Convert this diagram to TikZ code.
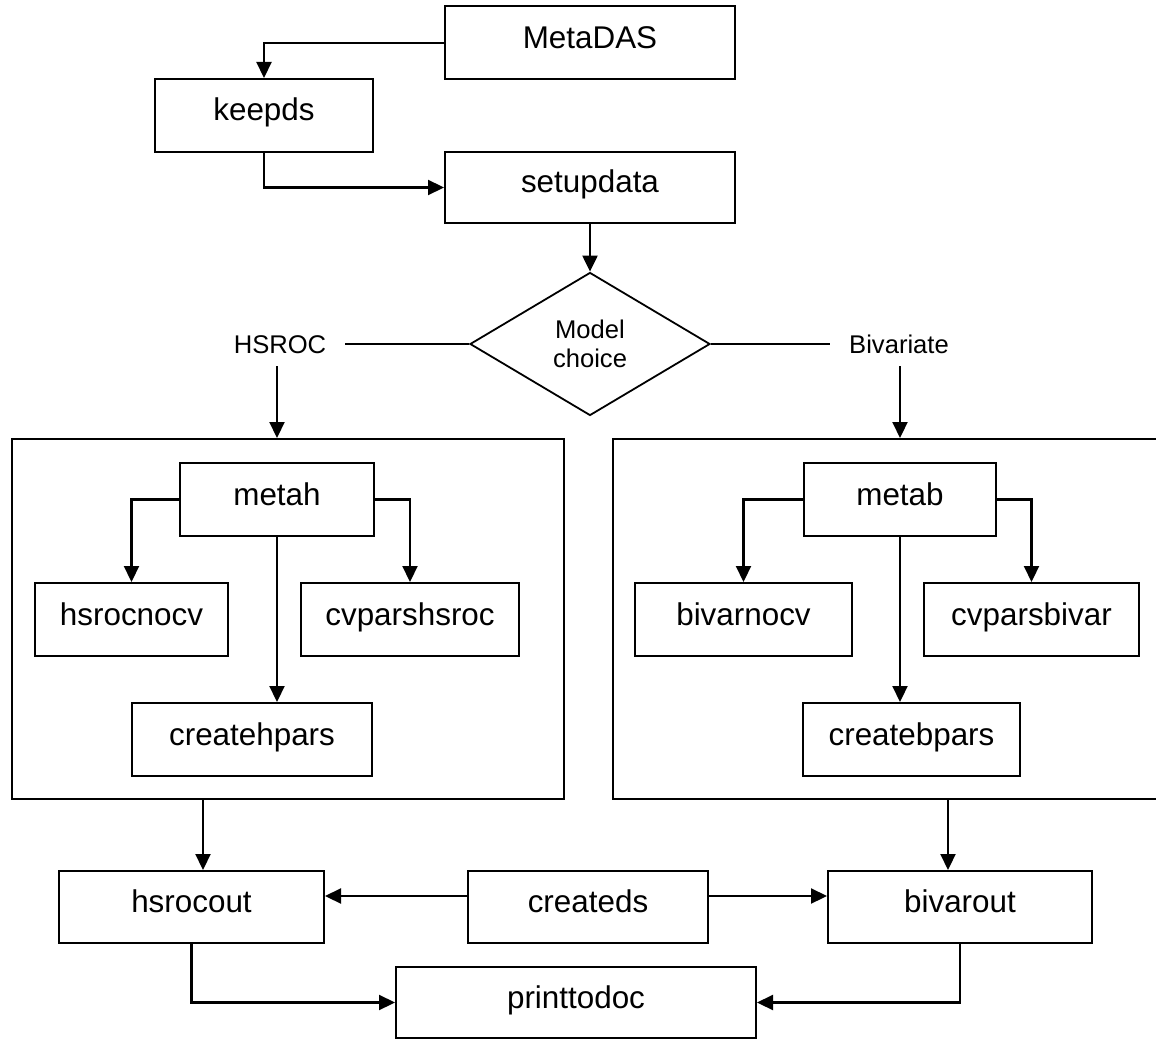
\documentclass[tikz,border=0pt]{standalone}
\usepackage{fontspec}
\setmainfont{Liberation Sans}
\usetikzlibrary{shapes.geometric,arrows.meta}
\begin{document}
\begin{tikzpicture}[x=1pt,y=-1pt,
  box/.style={draw,line width=2pt,inner sep=0pt,minimum height=73pt,
    font=\fontsize{31.4}{36}\selectfont,text height=23pt,text depth=12pt},
  frame/.style={draw,line width=2pt,inner sep=0pt,minimum height=360pt},
  arr/.style={line width=2.2pt,-{Triangle[length=16pt,width=15pt]}},
  plain/.style={line width=1.6pt},
  lbl/.style={font=\fontsize{25.6}{28.5}\selectfont,inner xsep=19pt,inner ysep=13pt,
    text height=18.3pt,text depth=0pt}]
\useasboundingbox[fill=white] (0,0) rectangle (1156,1040);

% top
\node[box,minimum width=290pt] (meta) at (590,43) {MetaDAS};
\node[box,minimum width=218pt] (keep) at (264,115.5) {keepds};
\node[box,minimum width=290pt,minimum height=71pt] (setup) at (590,187.5) {setupdata};
\node[draw,diamond,line width=1.8pt,inner sep=0pt,minimum width=240pt,minimum height=143pt,
  align=center,font=\fontsize{25.6}{28.5}\selectfont] (dia) at (590,344) {Model\\choice};
\node[lbl] (hsroc) at (280,344) {HSROC};
\node[lbl] (biv) at (899,344) {Bivariate};

% frames
\node[frame,minimum width=552pt] (lbox) at (288,619) {};
\node[frame,minimum width=545pt] (rbox) at (885.5,619) {};

% left group
\node[box,minimum width=194pt] (metah) at (277,499.5) {metah};
\node[box,minimum width=193pt] (hnocv) at (131.5,619.5) {hsrocnocv};
\node[box,minimum width=218pt] (cvh) at (410,619.5) {cvparshsroc};
\node[box,minimum width=240pt] (chp) at (252,739.5) {createhpars};

% right group
\node[box,minimum width=192pt] (metab) at (900,499.5) {metab};
\node[box,minimum width=217pt] (bnocv) at (743.5,619.5) {bivarnocv};
\node[box,minimum width=215pt] (cvb) at (1031.5,619.5) {cvparsbivar};
\node[box,minimum width=217pt] (cbp) at (911.5,739.5) {createbpars};

% bottom
\node[box,minimum width=265pt,minimum height=72pt] (hout) at (191.5,907) {hsrocout};
\node[box,minimum width=240pt,minimum height=72pt] (cds) at (588,907) {createds};
\node[box,minimum width=264pt,minimum height=72pt] (bout) at (960,907) {bivarout};
\node[box,minimum width=360pt,minimum height=71pt] (print) at (576,1002.5) {printtodoc};

% connectors
\draw[arr] (meta.west) -| (keep.north);
\draw[arr] (keep.south) |- (setup.west);
\draw[arr] (setup.south) -- (dia.north);
\draw[plain] (hsroc.east) -- (dia.west);
\draw[plain] (dia.east) -- (biv.west);
\draw[arr] (hsroc.south -| metah) -- (lbox.north -| metah);
\draw[arr] (biv.south -| metab) -- (rbox.north -| metab);

\draw[arr] (metah.west) -| (hnocv.north);
\draw[arr] (metah.east) -| (cvh.north);
\draw[arr] (metah.south) -- (metah.south |- chp.north);
\draw[arr] (metab.west) -| (bnocv.north);
\draw[arr] (metab.east) -| (cvb.north);
\draw[arr] (metab.south) -- (metab.south |- cbp.north);

\draw[arr] ([xshift=11.5pt]hout.north |- lbox.south) -- ([xshift=11.5pt]hout.north);
\draw[arr] ([xshift=-12pt]bout.north |- rbox.south) -- ([xshift=-12pt]bout.north);
\draw[arr] ([yshift=11pt]cds.west) -- ([yshift=11pt]cds.west -| hout.east);
\draw[arr] ([yshift=11pt]cds.east) -- ([yshift=11pt]cds.east -| bout.west);
\draw[arr] (hout.south) |- (print.west);
\draw[arr] (bout.south) |- (print.east);
\end{tikzpicture}
\end{document}
